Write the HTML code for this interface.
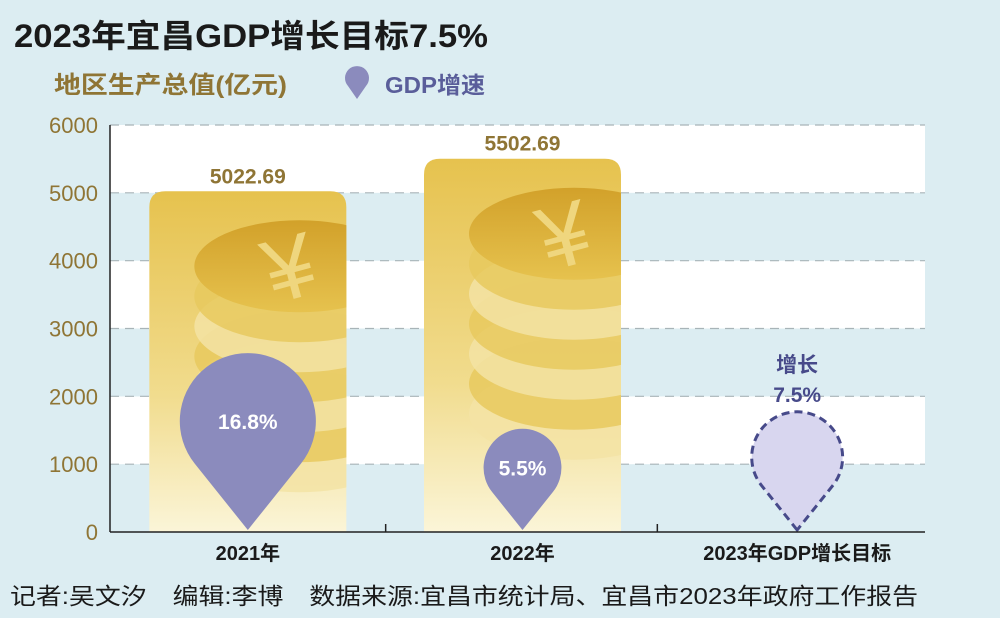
<!DOCTYPE html>
<html><head><meta charset="utf-8"><style>
body{margin:0;background:#dcedf2;}
svg{display:block;font-family:"Liberation Sans","Noto Sans CJK SC",sans-serif;}
</style></head><body>
<svg id="c" width="1000" height="618" viewBox="0 0 1000 618">
<defs>
<linearGradient id="bg" x1="0" y1="0" x2="0" y2="1">
<stop offset="0" stop-color="#e6c24e"/><stop offset="0.6" stop-color="#f1dc8e"/><stop offset="1" stop-color="#fbf5d8"/></linearGradient>
<linearGradient id="cg" x1="0" y1="0" x2="0" y2="1">
<stop offset="0" stop-color="#d2a12a"/><stop offset="1" stop-color="#e6c24e"/></linearGradient>
</defs>
<rect width="1000" height="618" fill="#dcedf2"/>
<text x="14" y="47" font-size="32" font-weight="bold" fill="#1a1a1a" textLength="474" lengthAdjust="spacingAndGlyphs">2023年宜昌GDP增长目标7.5%</text>
<text x="54" y="93" font-size="24" font-weight="bold" fill="#8f7535" textLength="233" lengthAdjust="spacingAndGlyphs">地区生产总值(亿元)</text>
<g>
<path d="M357 99 L348 86 A12 12 0 1 1 366 86 Z" fill="#8b8bbd"/>
<text x="385" y="93" font-size="23" font-weight="bold" fill="#5a5e9a" textLength="100" lengthAdjust="spacingAndGlyphs">GDP增速</text>
</g>
<g id="grid"></g><g id="bars"></g><g id="pins"></g><g id="axes"></g>
<text x="10" y="604" font-size="23" fill="#1a1a1a" textLength="908" lengthAdjust="spacingAndGlyphs">记者:吴文汐　编辑:李博　数据来源:宜昌市统计局、宜昌市2023年政府工作报告</text>
</svg>
<script>
const categories=["2021年","2022年","2023年GDP增长目标"];
const gdpValues=[5022.69,5502.69,null];
const gdpLabels=["5022.69","5502.69",""];
const growthValues=[16.8,5.5,7.5];
const growthLabels=["16.8%","5.5%","增长\n7.5%"];
const yTicks=[0,1000,2000,3000,4000,5000,6000];
const NS="http://www.w3.org/2000/svg";
const X0=110,X1=925,Y0=532,Y6=125;
const y=v=>Y0-(v/6000)*(Y0-Y6);
const band=(X1-X0)/categories.length;
const xc=i=>X0+band*(i+0.5)+2+i*3;
function mk(t,a,p){const e=document.createElementNS(NS,t);for(const k in a)e.setAttribute(k,a[k]);p.appendChild(e);return e;}
const grid=document.getElementById('grid'),bars=document.getElementById('bars'),pins=document.getElementById('pins'),axes=document.getElementById('axes');
for(let i=0;i<yTicks.length-1;i++){
 const r=mk('rect',{x:X0,y:y(yTicks[i+1]),width:X1-X0,height:y(yTicks[i])-y(yTicks[i+1]),fill:(i%2==0)?'#dcedf2':'#ffffff'},grid);
 
 
}
yTicks.forEach(t=>{
 if(t>0){const l=mk('line',{x1:X0,x2:X1,y1:y(t),y2:y(t),stroke:'#a8b4b8','stroke-dasharray':'9 6','stroke-width':1.2},grid);
 
 }
 const tx=mk('text',{x:98,y:y(t)+8,'font-size':22,fill:'#8f7535','text-anchor':'end'},axes);tx.textContent=t;
 
 
});
mk('line',{x1:X0,x2:X0,y1:Y6,y2:Y0,stroke:'#222','stroke-width':1.5},axes);
mk('line',{x1:X0,x2:X1,y1:Y0,y2:Y0,stroke:'#222','stroke-width':1.5},axes);
[1,2].forEach(i=>mk('line',{x1:X0+band*i+4,x2:X0+band*i+4,y1:Y0,y2:Y0-8,stroke:'#222','stroke-width':1.5},axes));
categories.forEach((c,i)=>{
 const cx=xc(i);
 const t=mk('text',{x:cx,y:560,'font-size':20,'font-weight':'bold',fill:'#1a1a1a','text-anchor':'middle'},axes);t.textContent=c;
 
 
 if(gdpValues[i]!=null){
  const top=y(gdpValues[i]),w=197,bx=cx-w/2;
  const g=mk('g',{},bars);
  
  
  mk('path',{d:`M${bx} ${Y0} V${top+16} Q${bx} ${top} ${bx+16} ${top} H${bx+w-16} Q${bx+w} ${top} ${bx+w} ${top+16} V${Y0} Z`,fill:'url(#bg)'},g);
  const ccx=bx+150,ccy=top+75,rx=105,ry=46;
  const cp=mk('clipPath',{id:'cl'+i},g);mk('rect',{x:bx,y:top,width:w,height:Y0-top},cp);
  const cg=mk('g',{'clip-path':`url(#cl${i})`},g);
  for(let k=6;k>=1;k--)mk('ellipse',{cx:ccx,cy:ccy+k*30,rx:rx,ry:ry,fill:k%2?'#e8c95e':'#f3e3a4',opacity:0.85},cg);
  mk('ellipse',{cx:ccx,cy:ccy,rx:rx,ry:ry,fill:'url(#cg)'},cg);
  const yt=mk('text',{x:ccx-10,y:ccy+30,'font-size':90,fill:'#efd67e','text-anchor':'middle',transform:`rotate(-15 ${ccx} ${ccy})`},cg);yt.textContent='¥';
  const lb=mk('text',{x:cx,y:top-8,'font-size':21,'font-weight':'bold',fill:'#8f7535','text-anchor':'middle'},bars);lb.textContent=gdpLabels[i];
  
  
 }
 const r=16.6*Math.sqrt(growthValues[i]),tip=Y0-2,cyp=tip-r*1.6;
 const a=Math.asin(r/(tip-cyp)),tx=r*Math.cos(a),ty=r*Math.sin(a);
 const dashed=gdpValues[i]==null;
 const p=mk('path',{d:`M${cx} ${tip} L${cx-tx} ${cyp+ty} A${r} ${r} 0 1 1 ${cx+tx} ${cyp+ty} Z`,fill:dashed?'#d8d6ef':'#8b8bbd',stroke:dashed?'#474a8a':'none','stroke-width':3,'stroke-dasharray':dashed?'8 5':''},pins);
 
 
 if(!dashed){
  const t2=mk('text',{x:cx,y:cyp+8,'font-size':21,'font-weight':'bold',fill:'#fff','text-anchor':'middle'},pins);t2.textContent=growthLabels[i];
  
  
 }else{
  growthLabels[i].split('\n').forEach((s,j)=>{
   const t3=mk('text',{x:cx,y:cyp-r-40+j*30,'font-size':21,'font-weight':'bold',fill:'#474a8a','text-anchor':'middle'},pins);t3.textContent=s;
   
   
  });
 }
});
</script>
</body></html>
